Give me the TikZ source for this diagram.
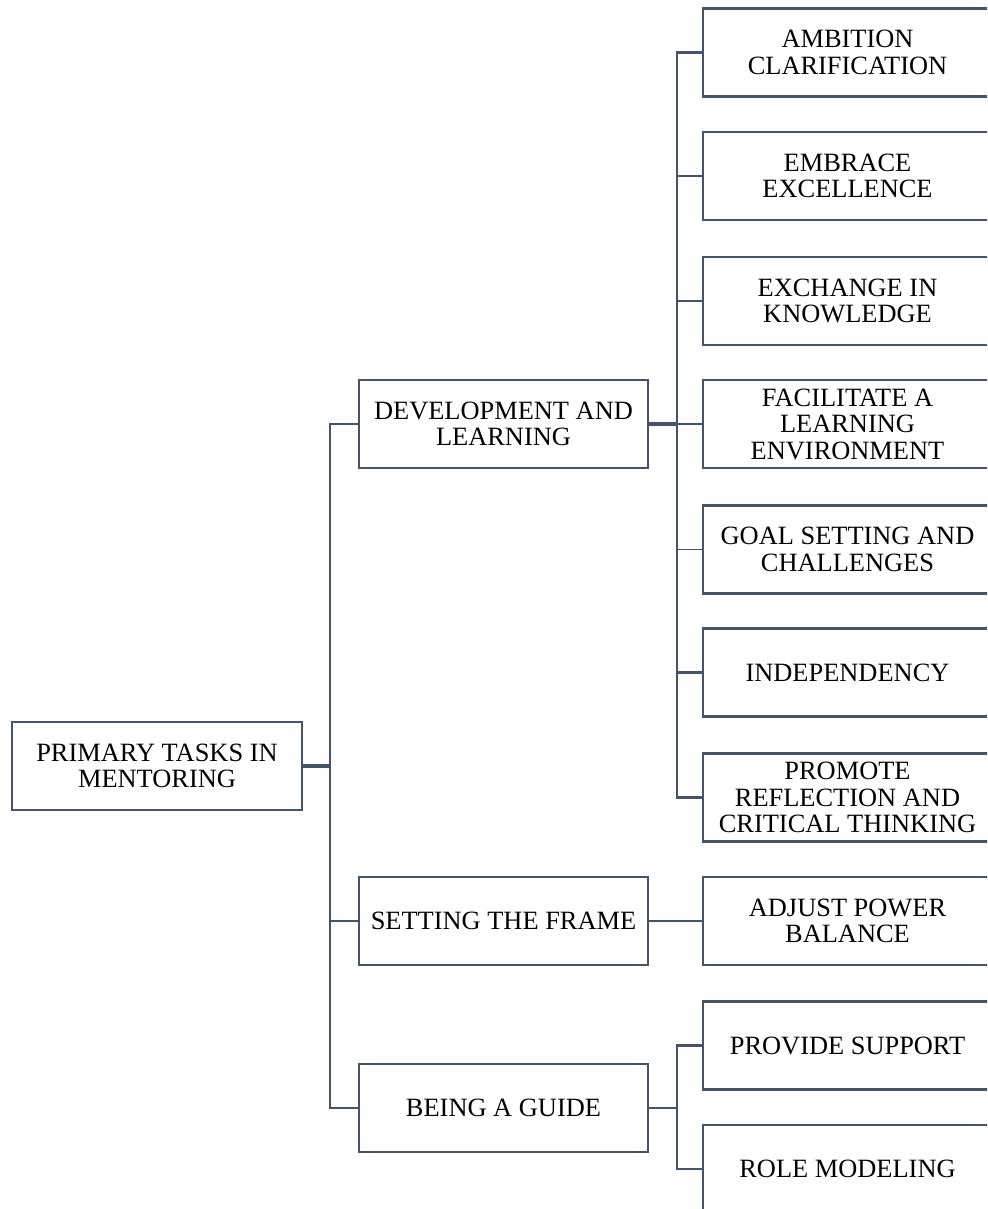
\documentclass[tikz,border=0pt]{standalone}
\usepackage{fontspec}
\setmainfont{Liberation Serif}
\definecolor{lineblue}{RGB}{68,84,106}
\begin{document}
\begin{tikzpicture}[x=1pt,y=-1pt,
  box/.style={draw=lineblue, line width=2.6pt, minimum width=289pt, minimum height=88pt,
    align=center, inner sep=0pt, text=black, font=\fontsize{26.4}{26.5}\selectfont},
  conn/.style={draw=lineblue, line width=2.5pt},
  thick conn/.style={draw=lineblue, line width=3.6pt},
  thin conn/.style={draw=lineblue, line width=1.3pt}]
\path[use as bounding box, clip] (0,0) rectangle (987,1209);

% root
\node[box, minimum width=290pt] (root) at (157,766) {PRIMARY TASKS IN\\MENTORING};

% level 2
\node[box] (dev) at (503.5,424) {DEVELOPMENT AND\\LEARNING};
\node[box] (frame) at (503.5,921) {SETTING THE FRAME};
\node[box] (guide) at (503.5,1108) {BEING A GUIDE};

% level 3
\node[box] (amb) at (847.5,52.5) {AMBITION\\CLARIFICATION};
\node[box] (emb) at (847.5,176) {EMBRACE\\EXCELLENCE};
\node[box] (exc) at (847.5,301) {EXCHANGE IN\\KNOWLEDGE};
\node[box] (fac) at (847.5,424) {FACILITATE A\\LEARNING\\ENVIRONMENT};
\node[box] (goal) at (847.5,549.5) {GOAL SETTING AND\\CHALLENGES};
\node[box] (ind) at (847.5,672.5) {INDEPENDENCY};
\node[box] (pro) at (847.5,797.5) {PROMOTE\\REFLECTION AND\\CRITICAL THINKING};
\node[box] (adj) at (847.5,921) {ADJUST POWER\\BALANCE};
\node[box] (sup) at (847.5,1045.5) {PROVIDE SUPPORT};
\node[box] (role) at (847.5,1169) {ROLE MODELING};

% junction points
\coordinate (t) at (330,766);
\coordinate (d) at (677,424);
\coordinate (g) at (677,1108);

% root to level 2
\draw[thick conn] (root.east) -- (t);
\draw[conn] (t) |- (dev.west);
\draw[conn] (t) |- (frame.west);
\draw[conn] (t) |- (guide.west);

% development to level 3
\draw[thick conn] (dev.east) -- (d);
\draw[conn] (d) |- (amb.west);
\draw[conn] (d) |- (emb.west);
\draw[conn] (d) |- (exc.west);
\draw[conn] (d) -- (fac.west);
\draw[thin conn] (d) |- (goal.west);
\draw[conn] (d) |- (ind.west);
\draw[conn] (d) |- (pro.west);

% setting the frame
\draw[conn] (frame.east) -- (adj.west);

% being a guide
\draw[conn] (guide.east) -- (g);
\draw[conn] (g) |- (sup.west);
\draw[conn] (g) |- (role.west);
\end{tikzpicture}
\end{document}
